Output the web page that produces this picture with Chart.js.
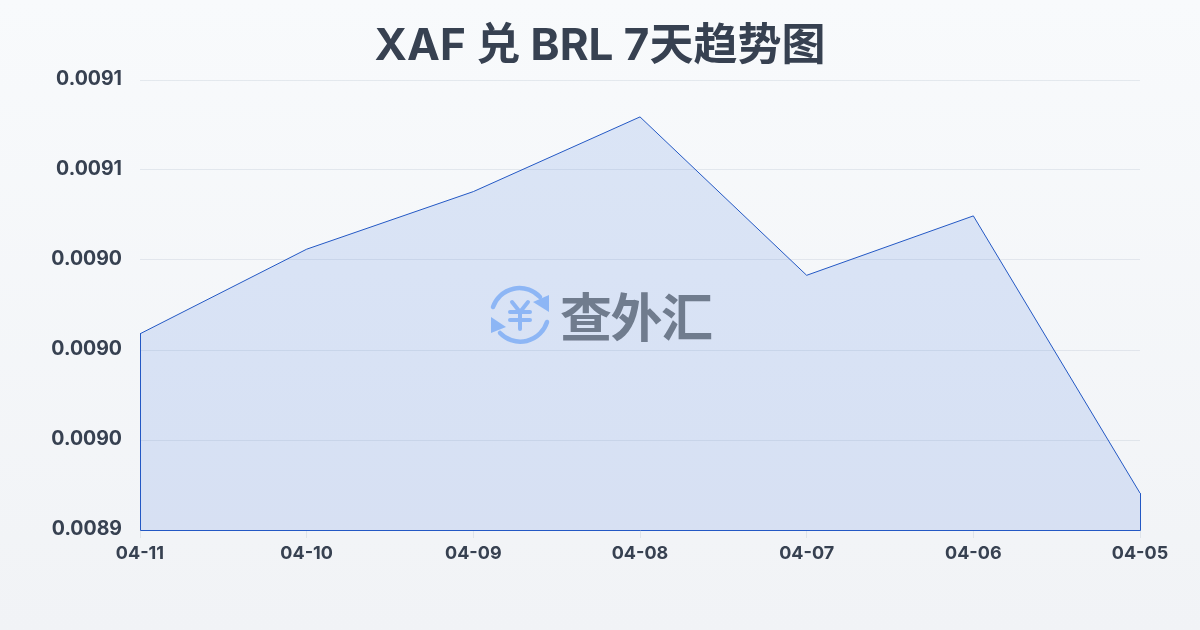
<!DOCTYPE html>
<html><head><meta charset="utf-8">
<script src="https://cdn.jsdelivr.net/npm/chart.js@4"></script>
<style>
html,body{margin:0;padding:0;width:1200px;height:630px;overflow:hidden;background:linear-gradient(180deg,#f8fafc,#f1f3f6);}
#box{position:absolute;left:0;top:0;width:1200px;height:630px}
#wm{position:absolute;left:488px;top:284px;width:240px;height:62px;display:flex;align-items:center;pointer-events:none;white-space:nowrap}
#wm svg{flex:none}
#wm span{font:700 52px "Noto Sans CJK SC";color:#6b7688;letter-spacing:-1.5px;margin-left:8px;line-height:62px;opacity:.95}
</style></head><body>
<div id="box"><canvas id="c" width="1200" height="630"></canvas></div>
<div id="wm">
<svg width="64" height="62" viewBox="0 0 64 62" fill="none" stroke="#8db6f5" stroke-width="4.5" stroke-linecap="round">
<path d="M5 23A28 28 0 0 1 52 13"/><path d="M59 38A28 28 0 0 1 12 49"/>
<path d="M61 28L45 18L61 11Z" fill="#8db6f5" stroke="none"/><path d="M3 33L18 43L3 49Z" fill="#8db6f5" stroke="none"/>
<path d="M24 18L32 28L40 18M22 28H42M22 36H42M32 28V45" stroke-width="4"/>
</svg><span>查外汇</span></div>
<script>
const categories=["04-11","04-10","04-09","04-08","04-07","04-06","04-05"];
const rates=[0.009009,0.009056,0.009088,0.0091295,0.0090415,0.0090745,0.0089205];
const yTickLabels=["0.0089","0.0090","0.0090","0.0090","0.0091","0.0091"];
const titleText="XAF 兑 BRL 7天趋势图";
const yMin=0.0089,yMax=0.00915,yStep=0.00005;
const font='Inter,"Noto Sans CJK SC",sans-serif';
const closeOutline={id:'closeOutline',afterDatasetsDraw(chart){
  const pts=chart.getDatasetMeta(0).data,base=chart.scales.y.getPixelForValue(yMin)+0.5,ctx=chart.ctx,f=pts[0],l=pts[pts.length-1];
  ctx.save();ctx.strokeStyle='#2358c4';ctx.lineWidth=1;ctx.beginPath();
  ctx.moveTo(f.x+0.5,f.y);ctx.lineTo(f.x+0.5,base);ctx.lineTo(l.x+0.5,base);ctx.lineTo(l.x+0.5,l.y);
  ctx.stroke();ctx.restore();}};
new Chart(document.getElementById('c'),{type:'line',plugins:[closeOutline],
data:{labels:categories,datasets:[{data:rates,borderColor:'#2358c4',borderWidth:1,backgroundColor:'rgba(59,111,224,0.15)',fill:'origin',tension:0,pointRadius:0}]},
options:{responsive:false,animation:false,
plugins:{legend:{display:false},tooltip:{enabled:false},
title:{display:true,text:titleText,color:'#374151',font:{family:font,size:44,weight:'700'},padding:{top:20.6,bottom:6.6}}},
scales:{
x:{offset:false,grid:{color:'rgba(148,163,184,0.2)',tickLength:8,drawOnChartArea:false},border:{display:false},afterFit(s){s.height=100},
ticks:{color:'#374151',font:{family:font,size:18,weight:'700'},maxRotation:0,autoSkip:false,padding:5}},
y:{min:yMin,max:yMax,grid:{color:'rgba(148,163,184,0.2)',tickLength:0},border:{display:false},afterFit(s){s.width=140},
afterBuildTicks(s){s.ticks=yTickLabels.map((_,i)=>({value:yMin+i*yStep}))},
ticks:{color:'#374151',font:{family:font,size:19.5,weight:'700'},padding:18,labelOffset:-1,callback(v,i){return yTickLabels[i]}}},
spacer:{position:'right',display:true,grid:{display:false},border:{display:false},ticks:{display:false},afterFit(s){s.width=60}}
}}});
</script></body></html>
